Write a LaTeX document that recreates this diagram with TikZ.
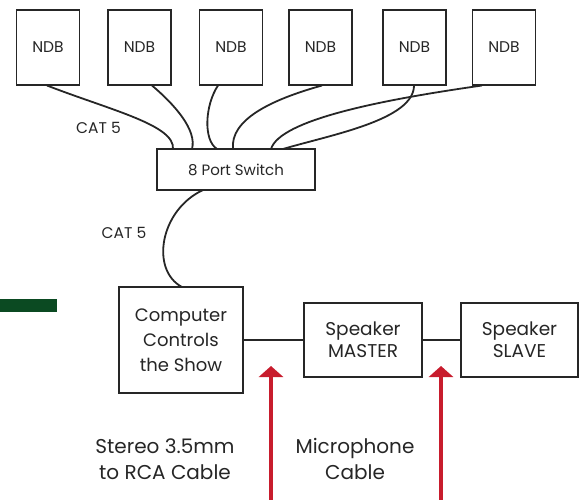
\documentclass[tikz,border=0pt]{standalone}
\usepackage{fontspec}
\setmainfont{Poppins}
\usetikzlibrary{arrows.meta}
\definecolor{darkgreen}{RGB}{11,74,34}
\definecolor{arrowred}{RGB}{200,28,45}
\definecolor{ink}{RGB}{38,38,38}
\tikzset{
  box/.style={draw=ink, line width=1.9pt, fill=white, inner sep=0pt, align=center, text=ink},
  ndb/.style={box, minimum width=63pt, minimum height=75pt, font=\fontsize{15.5}{17}\selectfont},
  cable/.style={draw=ink, line width=1.8pt},
  wire/.style={draw=ink, line width=1.6pt},
  lbl/.style={align=center, inner sep=0pt, text=ink},
  redarrow/.style={draw=arrowred, line width=4pt, -{Triangle[length=11pt,width=24pt]}}
}
\begin{document}
\begin{tikzpicture}[x=1pt,y=-1pt]
\useasboundingbox (0,0) rectangle (583,500);
% green bar
\fill[darkgreen] (0,299) rectangle (57,312);
% NDB boxes
\node[ndb] (n1) at (48,47.5) {NDB};
\node[ndb] (n2) at (139.5,47.5) {NDB};
\node[ndb] (n3) at (231,47.5) {NDB};
\node[ndb] (n4) at (320.5,47.5) {NDB};
\node[ndb] (n5) at (414.5,47.5) {NDB};
\node[ndb] (n6) at (504,47.5) {NDB};
% switch
\node[box, minimum width=158pt, minimum height=41pt, font=\fontsize{15}{17}\selectfont] (sw) at (236,169.5) {8 Port Switch};
% endpoints
\coordinate (a1) at (47,85.5);
\coordinate (a2) at (152,85.5);
\coordinate (a3) at (218,85.5);
\coordinate (a4) at (322,85.5);
\coordinate (a5) at (414,85.5);
\coordinate (a6) at (482,85.5);
\coordinate (b1) at (173,149);
\coordinate (b2) at (192,149);
\coordinate (b3) at (217,149);
\coordinate (b4) at (233,149);
\coordinate (b5) at (283,149);
\coordinate (b6) at (271,149);
\draw[cable] (a1) .. controls (110,110) and (175,125) .. (b1);
\draw[cable] (a2) .. controls (175,105) and (197,130) .. (b2);
\draw[cable] (a3) .. controls (205,105) and (203,140) .. (b3);
\draw[cable] (a4) .. controls (270,100) and (230,120) .. (b4);
\draw[cable] (a6) .. controls (380,100) and (280,120) .. (b6);
\draw[cable] (a5) .. controls (414,120) and (330,135) .. (b5);
\node[lbl, font=\fontsize{15.5}{17}\selectfont] (cat1) at (98.5,128) {CAT 5};
% computer etc
\node[box, minimum width=124pt, minimum height=106pt, font=\fontsize{18}{25}\selectfont] (pc) at (181,340) {Computer\\Controls\\the Show};
\node[box, minimum width=118pt, minimum height=74pt, font=\fontsize{18.5}{22}\selectfont] (ms) at (363,340) {Speaker\\MASTER};
\node[box, minimum width=117pt, minimum height=74pt, font=\fontsize{18.5}{22}\selectfont] (sl) at (519.5,340) {Speaker\\SLAVE};
\coordinate (s1) at (203,190);
\coordinate (p1) at (182,287);
\draw[cable] (s1) .. controls (160,210) and (150,270) .. (p1);
\node[lbl, font=\fontsize{15.5}{17}\selectfont] (cat2) at (124,233) {CAT 5};
\draw[wire] (pc.east) -- (ms.west);
\draw[wire] (ms.east) -- (sl.west);
% red arrows
\coordinate (r1s) at (271,500);
\coordinate (r1e) at (271,366);
\coordinate (r2s) at (441,500);
\coordinate (r2e) at (441,366);
\draw[redarrow] (r1s) -- (r1e);
\draw[redarrow] (r2s) -- (r2e);
% labels
\node[lbl, font=\fontsize{20}{26}\selectfont] (stereo) at (165,459) {Stereo 3.5mm\\to RCA Cable};
\node[lbl, font=\fontsize{20}{26}\selectfont] (mic) at (355,459) {Microphone\\Cable};
\end{tikzpicture}
\end{document}
